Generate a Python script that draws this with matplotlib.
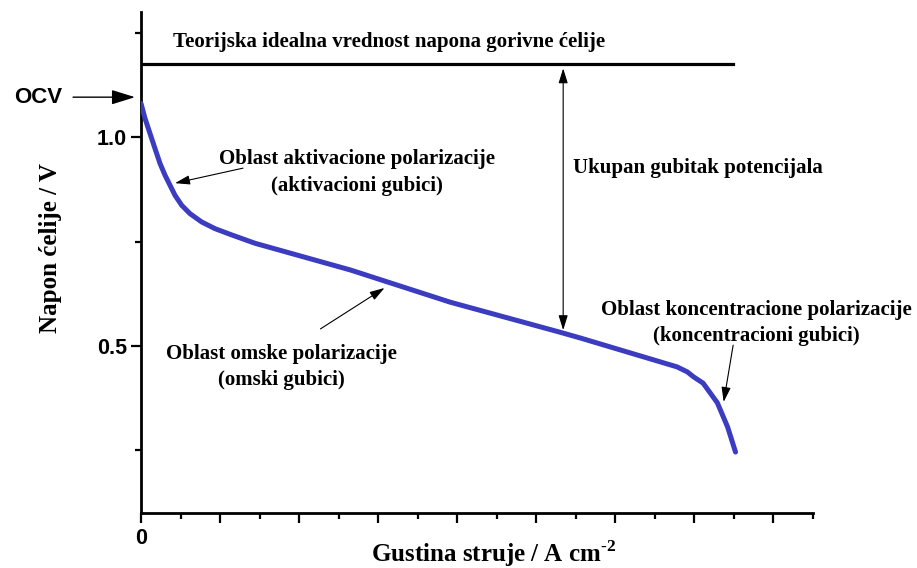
import matplotlib
matplotlib.use("Agg")
import matplotlib.pyplot as plt

plt.rcParams['mathtext.fontset'] = 'custom'
plt.rcParams['mathtext.rm'] = 'Liberation Serif:bold'
plt.rcParams['mathtext.bf'] = 'Liberation Serif:bold'

# Polarization curve (current density in arbitrary units, cell voltage in V)
current = [0, 0.051, 0.114, 0.177, 0.241, 0.304, 0.367, 0.430, 0.515, 0.620, 0.768,
           0.937, 1.148, 1.443, 2.65, 3.91, 5.30, 5.56, 6.78, 6.91, 6.99, 7.11,
           7.29, 7.42, 7.52]
voltage = [1.081, 1.045, 1.009, 0.973, 0.937, 0.909, 0.885, 0.861, 0.837, 0.817, 0.797,
           0.781, 0.766, 0.746, 0.682, 0.605, 0.533, 0.519, 0.450, 0.438, 0.426, 0.411,
           0.364, 0.306, 0.246]

ideal_x = [0, 7.49]
ideal_v = [1.176, 1.176]

ocv_v = 1.096
loss_x = 5.34
loss_top = 1.165
loss_bottom = 0.538

fig = plt.figure(figsize=(9.17, 5.68), dpi=100)
ax = fig.add_axes([141/917, 1-513/568, (813-141)/917, (513-12)/568])

ax.plot(current, voltage, color='#3b3cbf', lw=3.6, solid_capstyle='round',
        solid_joinstyle='round', zorder=3)
ax.plot(ideal_x, ideal_v, color='black', lw=2.3, zorder=3)

ax.set_xlim(0, 8.5)
ax.set_ylim(0.1, 1.3)

for s in ['top', 'right']:
    ax.spines[s].set_visible(False)
for s in ['left', 'bottom']:
    ax.spines[s].set_linewidth(2.0)

ax.set_xticks([0, 1, 2, 3, 4, 5, 6, 7, 8])
ax.set_xticklabels(['0', '', '', '', '', '', '', '', ''])
ax.set_xticks([0.5, 1.5, 2.5, 3.5, 4.5, 5.5, 6.5, 7.5, 8.5], minor=True)
ax.set_yticks([0.5, 1.0])
ax.set_yticklabels(['0.5', '1.0'])
ax.set_yticks([0.25, 0.75, 1.25], minor=True)
ax.tick_params(which='major', direction='out', length=7, width=1.6, colors='black')
ax.tick_params(which='minor', direction='out', length=4, width=1.6, colors='black')
for lab in ax.get_xticklabels() + ax.get_yticklabels():
    lab.set_fontfamily('Liberation Sans')
    lab.set_fontweight('bold')
    lab.set_fontsize(15.5)
ax.tick_params(axis='x', pad=4)
ax.tick_params(axis='y', pad=3)

ax.set_xlabel(r'Gustina struje / A cm$^{\text{-2}}$', fontfamily='Liberation Serif',
              fontweight='bold', fontsize=18, va='baseline')
ax.xaxis.set_label_coords(0.524, -0.098)
ax.set_ylabel('Napon ćelije / V', fontfamily='Liberation Serif',
              fontweight='bold', fontsize=18, va='center')
ax.yaxis.set_label_coords(-0.134, 0.529)

tkw = dict(fontfamily='Liberation Serif', fontweight='bold', fontsize=15, color='black')

ax.text(3.14, 1.227, 'Teorijska idealna vrednost napona gorivne ćelije',
        ha='center', va='center', **tkw)
ax.text(2.73, 0.947, 'Oblast aktivacione polarizacije', ha='center', va='center', **tkw)
ax.text(2.73, 0.883, '(aktivacioni gubici)', ha='center', va='center', **tkw)
ax.text(5.46, 0.926, 'Ukupan gubitak potencijala', ha='left', va='center', **tkw)
ax.text(1.78, 0.481, 'Oblast omske polarizacije', ha='center', va='center', **tkw)
ax.text(1.78, 0.419, '(omski gubici)', ha='center', va='center', **tkw)
ax.text(7.78, 0.586, 'Oblast koncentracione polarizacije', ha='center', va='center',
        clip_on=False, **tkw)
ax.text(7.78, 0.524, '(koncentracioni gubici)', ha='center', va='center',
        clip_on=False, **tkw)

akw = dict(arrowstyle='-|>,head_length=0.9,head_width=0.28', color='black', lw=0.8,
           shrinkA=0, shrinkB=0)
ax.annotate('', xy=(0.43, 0.890), xytext=(1.29, 0.926), arrowprops=akw)
ax.annotate('', xy=(3.08, 0.639), xytext=(2.27, 0.541), arrowprops=akw)
ax.annotate('', xy=(7.37, 0.366), xytext=(7.49, 0.502), arrowprops=akw)
ax.annotate('', xy=(loss_x, loss_bottom), xytext=(loss_x, loss_top),
            arrowprops=dict(arrowstyle='<|-|>,head_length=0.9,head_width=0.28',
                            color='black', lw=0.8, shrinkA=0, shrinkB=0))
ax.annotate('OCV', xy=(-0.076, ocv_v), xytext=(-1.0, ocv_v), annotation_clip=False,
            ha='right', va='center', fontfamily='Liberation Sans', fontweight='bold',
            fontsize=16, arrowprops=dict(arrowstyle='-|>,head_length=0.9,head_width=0.28',
                                         color='black', lw=1.0, shrinkA=6, shrinkB=0))

fig.savefig('out.png', dpi=100)
